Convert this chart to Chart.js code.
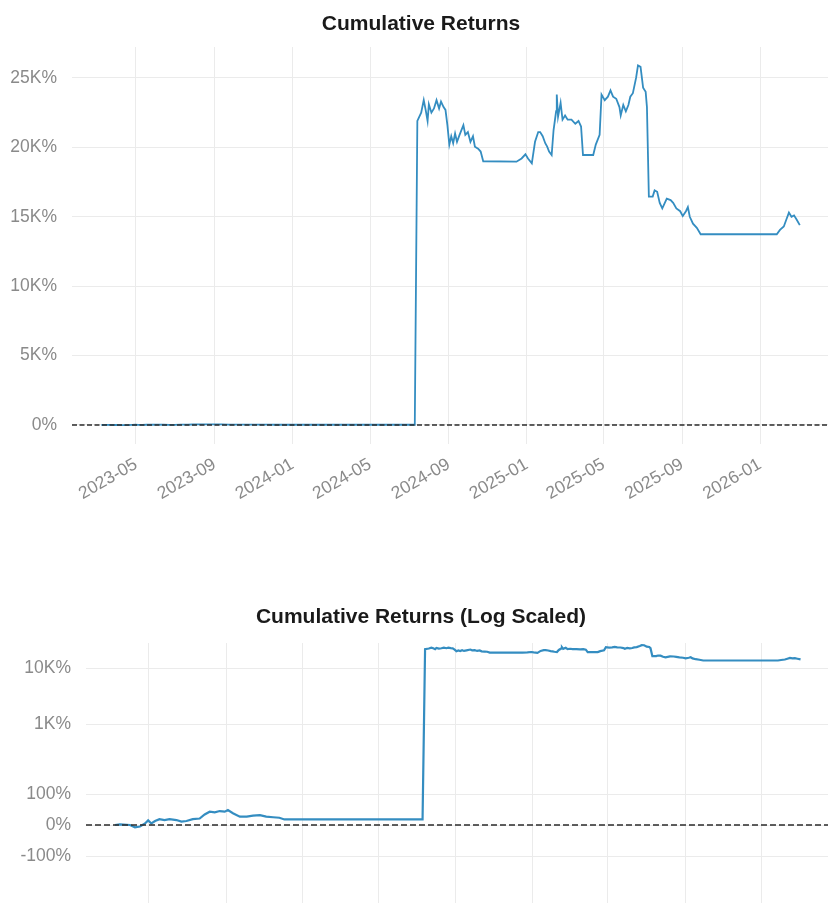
<!DOCTYPE html>
<html><head><meta charset="utf-8">
<script src="https://cdn.jsdelivr.net/npm/chart.js@4.4.1/dist/chart.umd.min.js"></script>
<style>
html,body{margin:0;padding:0;background:#fff;overflow:hidden;width:828px;height:903px;}
#wrap{position:relative;width:828px;height:903px;overflow:hidden;}
#c1{position:absolute;left:0;top:0;width:842px;height:520px;}
#c2{position:absolute;left:0;top:593px;width:842px;height:310px;}
</style></head><body>
<div id="wrap">
<canvas id="c1" width="842" height="520"></canvas>
<canvas id="c2" width="842" height="310"></canvas>
</div>
<script>
// ---- data (cumulative return, %) ----
const dates = [
 '2023-03-08','2023-03-16','2023-04-01','2023-04-09','2023-04-17','2023-04-25','2023-04-30','2023-05-05','2023-05-11','2023-05-18',
 '2023-05-26','2023-06-03','2023-06-14','2023-06-22','2023-06-30','2023-07-10','2023-07-21','2023-07-29','2023-08-06','2023-08-14',
 '2023-08-22','2023-08-30','2023-09-04','2023-09-12','2023-09-23','2023-10-04','2023-10-14','2023-10-25','2023-11-04','2023-11-15',
 '2023-11-25','2023-12-03','2024-07-10',
 '2024-07-14','2024-07-20','2024-07-24','2024-07-27','2024-07-30','2024-08-01','2024-08-05','2024-08-09','2024-08-13','2024-08-17',
 '2024-08-20','2024-08-24','2024-08-27','2024-08-30','2024-09-02','2024-09-05','2024-09-08','2024-09-11','2024-09-14','2024-09-18',
 '2024-09-24','2024-09-27','2024-10-01','2024-10-05','2024-10-09','2024-10-12','2024-10-17','2024-10-21','2024-10-25','2024-12-16',
 '2024-12-24','2024-12-30','2025-01-03','2025-01-09','2025-01-14','2025-01-19','2025-01-22','2025-01-26','2025-01-30','2025-02-02',
 '2025-02-05','2025-02-09','2025-02-12','2025-02-16','2025-02-17','2025-02-19','2025-02-23','2025-02-26','2025-03-02','2025-03-06',
 '2025-03-12','2025-03-18','2025-03-23','2025-03-27','2025-03-30','2025-04-15','2025-04-19','2025-04-25','2025-04-28','2025-05-03',
 '2025-05-08','2025-05-12','2025-05-16','2025-05-21','2025-05-26','2025-05-28','2025-06-01','2025-06-05','2025-06-09','2025-06-12',
 '2025-06-16','2025-06-21','2025-06-24','2025-06-28','2025-07-02','2025-07-06','2025-07-08','2025-07-11','2025-07-17','2025-07-20',
 '2025-07-24','2025-07-28','2025-08-01','2025-08-08','2025-08-14','2025-08-18','2025-08-23','2025-08-29','2025-09-02','2025-09-07',
 '2025-09-10','2025-09-13','2025-09-18','2025-09-24','2025-09-30','2026-01-27','2026-02-01','2026-02-07','2026-02-11','2026-02-15',
 '2026-02-19','2026-02-23','2026-02-27','2026-03-04'
];
const returnsPct = [
 0,2,0,-7.5,-5,5,15,5,13,19,
 16,19,16,11,13,19,21,34,43,41,
 45,43,48,38,27,27,30,32,27,25,
 23.5,18,18,
 21900,22500,23400,22700,21900,23100,22500,22800,23400,22800,
 23300,22900,22700,21600,20200,20800,20300,21000,20400,20900,
 21600,20900,21100,20400,20800,20050,19900,19700,19000,18970,
 19200,19500,19200,18850,20400,21100,21100,20800,20300,20050,
 19700,19450,21250,22600,23800,22200,23200,22000,22300,22000,
 22000,21700,21900,21500,19450,19450,20200,20900,23800,23400,
 23650,24100,23650,23500,22900,22300,23050,22600,23050,23650,
 23900,25000,25900,25800,24300,24000,22900,16450,16450,16900,
 16800,16000,15600,16300,16200,16000,15600,15400,15050,15400,
 15700,15000,14500,14200,13740,13740,14050,14300,14800,15300,
 15000,15100,14800,14400
];
const xTickLabels = ['2023-05','2023-09','2024-01','2024-05','2024-09','2025-01','2025-05','2025-09','2026-01'];
const xRange = ['2023-01-21','2026-05-09'];
const linearTicks = [0,5000,10000,15000,20000,25000];
const logTicks = [-100,0,100,1000,10000];

// ---- symlog scale (matplotlib style, linthresh 200%) ----
const LINTHRESH = 200, BASE = 10, LINSCALE = 1;
const A = LINSCALE / (1 - 1 / BASE);
function symlog(v){ const a=Math.abs(v); return a<=LINTHRESH ? v/LINTHRESH*A : Math.sign(v)*(A+Math.log(a/LINTHRESH)/Math.log(BASE)); }
function symexp(t){ const a=Math.abs(t); return a<=A ? t/A*LINTHRESH : Math.sign(t)*LINTHRESH*Math.pow(BASE,a-A); }
class SymlogScale extends Chart.LinearScale {
  static id = 'symlog';
  static defaults = {};
  determineDataLimits(){ this.min = symlog(this.options.min); this.max = symlog(this.options.max); }
  buildTicks(){ return (this.options.tickValues||[]).map(v=>({value:v})); }
  getPixelForValue(value){ return (value===null||value===undefined||isNaN(value)) ? NaN : super.getPixelForValue(symlog(value)); }
  getValueForPixel(pixel){ return symexp(super.getValueForPixel(pixel)); }
}
Chart.register(SymlogScale);

const FONT = "'Liberation Sans', Arial, Helvetica, sans-serif";
const points = dates.map((d,i)=>({x:Date.parse(d), y:returnsPct[i]}));
const xMin = Date.parse(xRange[0]), xMax = Date.parse(xRange[1]);
const zeroLine = [{x:xMin,y:0},{x:xMax,y:0}];
const xTickVals = xTickLabels.map(s=>Date.parse(s+'-01'));
const fmtMonth = v => new Date(v).toISOString().slice(0,7);
const fmtPct = v => v===0 ? '0%' : (Math.abs(v)>=1000 ? (v/1000)+'K%' : v+'%');

const GRID = '#ebebeb';
const TICKC = '#8a8a8a';
const BLUE = '#348dc1';

function baseOptions(title, padTop, padBottom){
  return {
    responsive:false, animation:false, devicePixelRatio:1,
    layout:{padding:{left:0,right:0,top:0,bottom:0}},
    plugins:{
      legend:{display:false}, tooltip:{enabled:false},
      title:{display:true, text:title, color:'#1a1a1a',
        font:{family:FONT, size:21, weight:'bold', lineHeight:1.2},
        padding:{top:padTop,bottom:padBottom}}
    },
    elements:{point:{radius:0}, line:{tension:0}}
  };
}

// ---- top chart ----
const o1 = baseOptions('Cumulative Returns', 11.6, 10.2);
o1.scales = {
  x:{type:'linear', min:xMin, max:xMax, bounds:'data',
     afterBuildTicks:s=>{ s.ticks = xTickVals.map(v=>({value:v})); },
     afterFit:s=>{ s.height = 76; },
     grid:{color:GRID, lineWidth:1, drawTicks:false}, border:{display:false},
     ticks:{color:TICKC, font:{family:FONT,size:17.5}, minRotation:30, maxRotation:30, padding:10, autoSkip:false,
       callback:v=>fmtMonth(v)}},
  y:{type:'linear', min:-1370, max:27230, bounds:'data',
     afterBuildTicks:s=>{ s.ticks = linearTicks.map(v=>({value:v})); },
     afterFit:s=>{ s.width = 72; },
     grid:{color:GRID, lineWidth:1, drawTicks:false}, border:{display:false},
     ticks:{color:TICKC, font:{family:FONT,size:17.5}, padding:15, callback:v=>fmtPct(v)}}
};
new Chart(document.getElementById('c1'), {
  type:'line',
  data:{datasets:[
    {data:zeroLine, borderColor:'#2b2b2b', borderWidth:1.4, borderDash:[5,2.5], order:0},
    {data:points, borderColor:BLUE, borderWidth:1.8, order:1}
  ]},
  options:o1
});

// ---- bottom chart (symlog) ----
const o2 = baseOptions('Cumulative Returns (Log Scaled)', 11.4, 13.4);
o2.scales = {
  x:{type:'linear', min:xMin, max:xMax, bounds:'data',
     afterBuildTicks:s=>{ s.ticks = xTickVals.map(v=>({value:v})); },
     afterFit:s=>{ s.height = 0; s.paddingLeft=0; s.paddingRight=0; },
     grid:{color:GRID, lineWidth:1, drawTicks:false}, border:{display:false},
     ticks:{display:false}},
  y:{type:'symlog', min:-387, max:28300, tickValues:logTicks,
     afterFit:s=>{ s.width = 86; s.paddingTop = 0; s.paddingBottom = 0; },
     grid:{color:GRID, lineWidth:1, drawTicks:false}, border:{display:false},
     ticks:{color:TICKC, font:{family:FONT,size:17.5}, padding:15, callback:v=>fmtPct(v)}}
};
new Chart(document.getElementById('c2'), {
  type:'line',
  data:{datasets:[
    {data:zeroLine, borderColor:'#2b2b2b', borderWidth:1.4, borderDash:[6,3], order:0},
    {data:points, borderColor:BLUE, borderWidth:2.2, order:1}
  ]},
  options:o2
});
</script>
</body></html>
